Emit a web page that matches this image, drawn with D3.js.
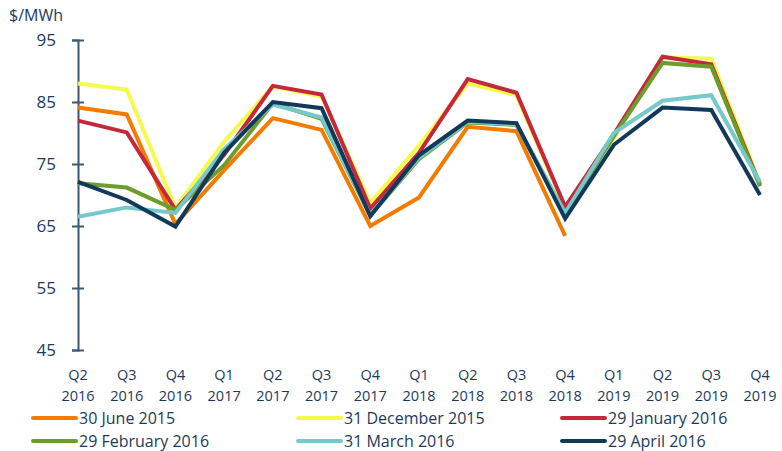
<!DOCTYPE html>
<html><head><meta charset="utf-8">
<script src="https://cdn.jsdelivr.net/npm/d3@7"></script>
<style>
body{margin:0;background:#fff;}
text{font-family:"Open Sans","Lato",sans-serif;fill:#1d3a5c;}
</style></head>
<body><svg id="c" width="782" height="451"></svg>
<script>
const quarters = ["Q2","Q3","Q4","Q1","Q2","Q3","Q4","Q1","Q2","Q3","Q4","Q1","Q2","Q3","Q4"];
const years = ["2016","2016","2016","2017","2017","2017","2017","2018","2018","2018","2018","2019","2019","2019","2019"];
const categories = quarters.map((q,i)=>q+" "+years[i]);
const yTicks = [45,55,65,75,85,95];

const june2015 = [84.1,83.0,65.3,74.0,82.4,80.5,65.0,69.6,81.0,80.3,63.4];
const dec2015  = [88.0,87.0,67.9,78.6,87.5,85.9,68.7,78.0,88.0,86.1,67.8,79.2,92.2,92.0,71.8];
const jan2016  = [82.0,80.1,67.6,76.5,87.6,86.2,67.8,76.8,88.7,86.5,68.1,79.8,92.3,91.1,71.6];
const feb2016  = [71.9,71.2,67.6,74.8,84.8,82.3,66.7,75.8,81.7,81.3,67.0,79.5,91.3,90.7,71.4];
const mar2016  = [66.5,68.0,67.1,77.4,84.6,82.5,66.8,76.0,81.8,81.4,67.1,80.0,85.2,86.1,72.1];
const apr2016  = [72.1,69.2,64.9,76.8,85.0,84.0,66.6,76.4,82.0,81.6,66.2,78.1,84.1,83.7,70.0];

const seriesNames = ["30 June 2015","31 December 2015","29 January 2016","29 February 2016","31 March 2016","29 April 2016"];
const seriesValues = [june2015,dec2015,jan2016,feb2016,mar2016,apr2016];
const colors = ["#f27b00","#f4fb4c","#c5283a","#6c9c2c","#76c8cb","#12395a"];

const svg = d3.select("#c");
const x = d3.scalePoint().domain(categories).range([78,760]);
const y = d3.scaleLinear().domain([45,95]).range([350,40]);

// y axis
const yAxis = svg.append("g").attr("transform","translate(78,0)")
  .call(d3.axisLeft(y).tickValues(yTicks).tickSize(6).tickPadding(16).tickFormat(d3.format("d")));
yAxis.select(".domain").attr("stroke","#3b5876").attr("stroke-width",2);
yAxis.selectAll(".tick line").attr("x1",-6).attr("x2",6).attr("stroke","#3b5876").attr("stroke-width",2);
yAxis.selectAll(".tick text").attr("font-size",17).attr("fill","#1d3a5c").attr("font-family","Open Sans, sans-serif");

svg.append("text").attr("x",9).attr("y",21).attr("font-size",16).text("$/MWh");

// x labels
const xl = svg.append("g");
categories.forEach((c,i)=>{
  const cx = x(c);
  xl.append("text").attr("x",cx).attr("y",380).attr("text-anchor","middle").attr("font-size",14.5).text(quarters[i]);
  xl.append("text").attr("x",cx).attr("y",401).attr("text-anchor","middle").attr("font-size",14.5).text(years[i]);
});

// lines
const line = d3.line().x((d,i)=>x(categories[i])).y(d=>y(d)).curve(d3.curveLinear);
seriesValues.forEach((vals,k)=>{
  svg.append("path").datum(vals).attr("d",line).attr("fill","none")
    .attr("stroke",colors[k]).attr("stroke-width",4).attr("stroke-linejoin","miter");
});

// legend
const legX = [33,298,562];
const legY = [418,441];
seriesNames.forEach((n,k)=>{
  const lx = legX[k%3], ly = legY[Math.floor(k/3)];
  svg.append("line").attr("x1",lx).attr("x2",lx+43).attr("y1",ly).attr("y2",ly)
    .attr("stroke",colors[k]).attr("stroke-width",4).attr("stroke-linecap","round");
  svg.append("text").attr("x",lx+46).attr("y",ly+5.5).attr("font-size",16).text(n);
});
</script></body></html>
